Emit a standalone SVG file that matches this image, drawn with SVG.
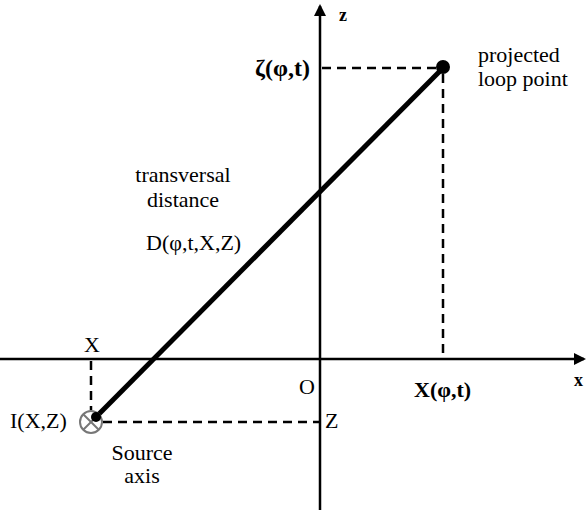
<svg xmlns="http://www.w3.org/2000/svg" width="586" height="510" viewBox="0 0 586 510">
<defs>
<marker id="ah" markerWidth="12" markerHeight="12" refX="10" refY="6" orient="auto" markerUnits="userSpaceOnUse">
<path d="M0,0 L12,6 L0,12 z" fill="#000"/>
</marker>
<style>
.t{font-family:"Liberation Serif","Times New Roman",serif;fill:#000;font-size:22px}
.b{font-weight:bold}
.axis{stroke:#000;stroke-width:2.5;fill:none}
.dash{stroke:#000;stroke-width:2.5;stroke-dasharray:9,6;fill:none}
</style>
</defs>
<rect width="586" height="510" fill="#fff"/>
<g id="connectors">
<line class="axis" x1="0" y1="359" x2="584" y2="359" marker-end="url(#ah)"/>
<line class="axis" x1="320" y1="510" x2="320" y2="6" marker-end="url(#ah)"/>
<line class="dash" x1="322" y1="68" x2="440" y2="68"/>
<line class="dash" x1="443" y1="74" x2="443" y2="358"/>
<line class="dash" x1="91" y1="361" x2="91" y2="410"/>
<line class="dash" x1="103" y1="422" x2="319" y2="422"/>
<line x1="96" y1="417" x2="443" y2="68" stroke="#000" stroke-width="5"/>
</g>
<g id="loop-point">
<circle cx="443" cy="67" r="7" fill="#000"/>
<text class="t" x="478" y="62">projected</text>
<text class="t" x="478" y="86">loop point</text>
</g>
<g id="source">
<circle cx="91" cy="422" r="11" fill="none" stroke="#777" stroke-width="2"/>
<line x1="83.5" y1="414.5" x2="98.5" y2="429.5" stroke="#777" stroke-width="2"/>
<line x1="98.5" y1="414.5" x2="83.5" y2="429.5" stroke="#777" stroke-width="2"/>
<circle cx="96" cy="417" r="5" fill="#000"/>
<text class="t" x="10" y="428">I(X,Z)</text>
<text class="t" x="142" y="460" text-anchor="middle">Source</text>
<text class="t" x="142" y="483" text-anchor="middle">axis</text>
</g>
<g id="labels">
<text class="t b" x="339" y="21" font-size="18" style="font-size:18px">z</text>
<text class="t b" x="574" y="386" style="font-size:18px">x</text>
<text class="t b" x="255" y="76" style="font-size:24px">ζ(φ,t)</text>
<text class="t b" x="414" y="397">X(φ,t)</text>
<text class="t" x="183" y="182" text-anchor="middle">transversal</text>
<text class="t" x="183" y="207" text-anchor="middle">distance</text>
<text class="t" x="146" y="250">D(φ,t,X,Z)</text>
<text class="t" x="84" y="352">X</text>
<text class="t" x="299" y="394">O</text>
<text class="t" x="325" y="428">Z</text>
</g>
</svg>
